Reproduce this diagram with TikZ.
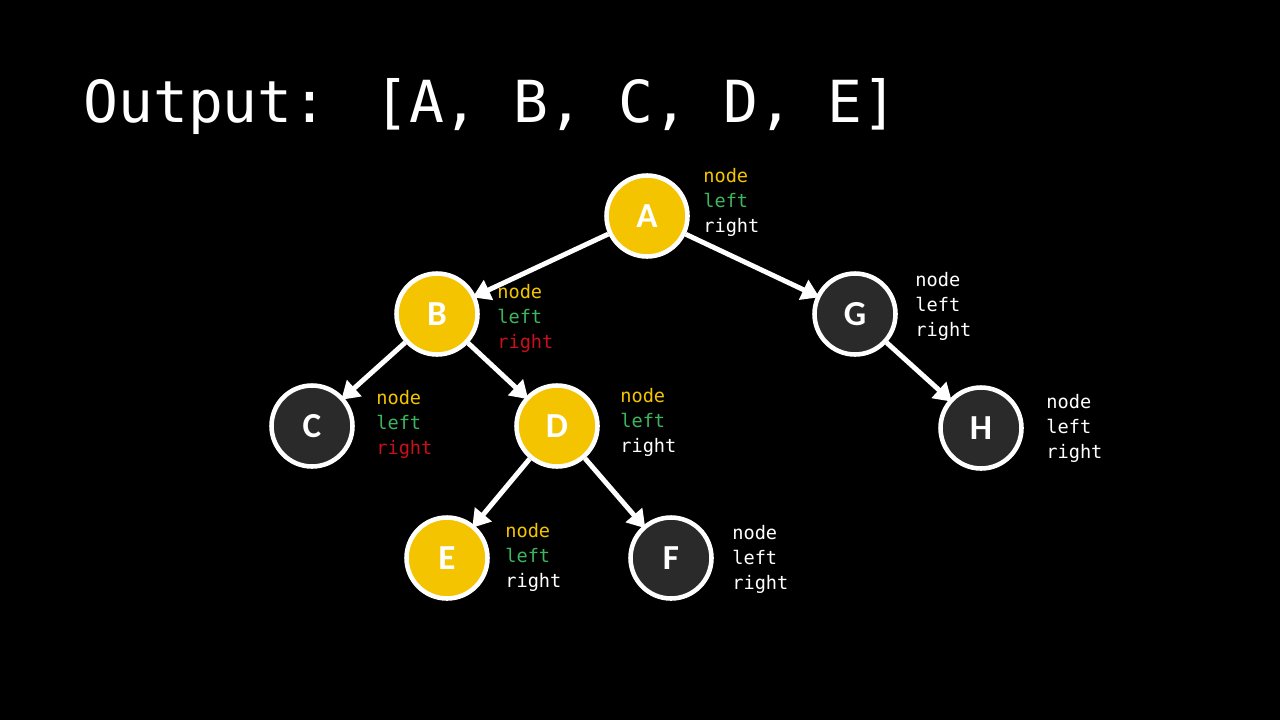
\documentclass[tikz,border=0pt]{standalone}
\usepackage{fontspec}
\setmainfont{Carlito}
\newfontfamily\monof{DejaVu Sans Mono}
\usetikzlibrary{arrows.meta}
\definecolor{yel}{HTML}{F5C400}
\definecolor{grn}{HTML}{3DB55E}
\definecolor{rd}{HTML}{C8101A}
\definecolor{dk}{HTML}{2A2A2A}
\begin{document}
\begin{tikzpicture}[x=0.02cm,y=-0.02cm,
  tn/.style={circle,draw=white,line width=2.6pt,minimum size=1.62cm,inner sep=0pt,font=\fontsize{20}{20}\selectfont\bfseries},
  ys/.style={tn,fill=yel,text=white},
  ds/.style={tn,fill=dk,text=white},
  lb/.style={anchor=north west,align=left,inner sep=0pt,font=\monof\fontsize{10.6}{14.3}\selectfont,text=white},
  ed/.style={draw=white,line width=2.8pt,-{Triangle[length=10pt,width=12pt]},shorten >=-2pt}]
\fill[black] (0,0) rectangle (1280,720);
\useasboundingbox (0,0) rectangle (1280,720);
\node[anchor=west,inner sep=0pt,text=white,font=\monof\fontsize{33}{33}\selectfont] (t) at (83,107) {Output: [A, B, C, D, E]};
\node[ys] (A) at (647,216) {A};
\node[ys] (B) at (437,314) {B};
\node[ds] (G) at (855,314) {G};
\node[ds] (C) at (312,426) {C};
\node[ys] (D) at (557,426) {D};
\node[ds] (H) at (981,428) {H};
\node[ys] (E) at (447,558) {E};
\node[ds] (F) at (671,558) {F};
\draw[ed] (A) -- (B);
\draw[ed] (A) -- (G);
\draw[ed] (B) -- (C);
\draw[ed] (B) -- (D);
\draw[ed] (D) -- (E);
\draw[ed] (D) -- (F);
\draw[ed] (G) -- (H);
\node[lb] (lA) at (703,168) {\textcolor{yel}{node}\\\textcolor{grn}{left}\\right};
\node[lb] (lB) at (497,284) {\textcolor{yel}{node}\\\textcolor{grn}{left}\\\textcolor{rd}{right}};
\node[lb] (lC) at (376,390) {\textcolor{yel}{node}\\\textcolor{grn}{left}\\\textcolor{rd}{right}};
\node[lb] (lD) at (620,388) {\textcolor{yel}{node}\\\textcolor{grn}{left}\\right};
\node[lb] (lG) at (915,272) {node\\left\\right};
\node[lb] (lH) at (1046,394) {node\\left\\right};
\node[lb] (lE) at (505,523) {\textcolor{yel}{node}\\\textcolor{grn}{left}\\right};
\node[lb] (lF) at (732,525) {node\\left\\right};
\end{tikzpicture}
\end{document}
